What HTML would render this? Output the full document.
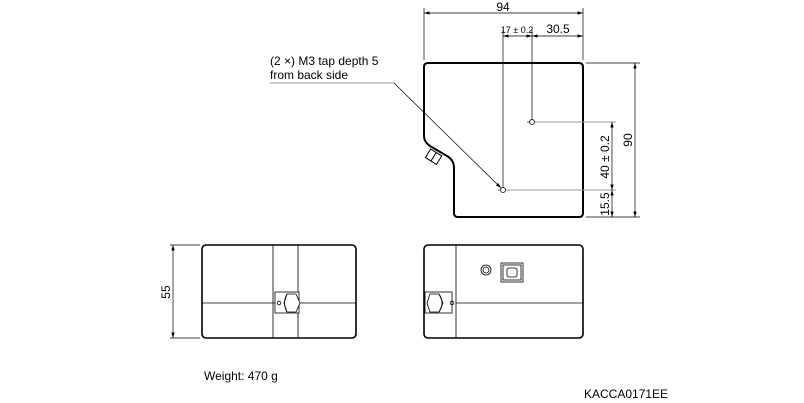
<!DOCTYPE html>
<html><head><style>
html,body{margin:0;padding:0;background:#fff;}
svg{display:block;}
text{font-family:"Liberation Sans",sans-serif;fill:#000;}
</style></head><body>
<svg width="804" height="403" viewBox="0 0 804 403" xmlns="http://www.w3.org/2000/svg">
<defs>
<marker id="a" viewBox="0 0 10 6" refX="10" refY="3" markerWidth="8" markerHeight="5" orient="auto-start-reverse"><path d="M0,0 L10,3 L0,6 z" fill="#000"/></marker>
</defs>
<!-- top view outline -->
<path d="M428,63 H579 Q583,63 583,67 V213 Q583,217 579,217 H458 Q454,217 454,213 V168 Q454,160 447,156 L430,146 Q424,142 424,136 V67 Q424,63 428,63 Z" fill="none" stroke="#000" stroke-width="2"/>
<!-- small connector on diagonal -->
<g transform="translate(434,157) rotate(32)" fill="none" stroke="#000" stroke-width="1"><rect x="-7" y="-5" width="13" height="10"/><line x1="-0.5" y1="-5" x2="-0.5" y2="5"/></g>
<!-- holes -->
<circle cx="532" cy="122" r="2.5" fill="none" stroke="#000" stroke-width="0.8"/>
<circle cx="503" cy="190" r="2.5" fill="none" stroke="#000" stroke-width="0.8"/>
<g stroke="#000" stroke-width="0.6">
<line x1="527" y1="122" x2="530" y2="122"/><line x1="498" y1="190" x2="500" y2="190"/>
</g>
<!-- gray extension lines -->
<g stroke="#999" stroke-width="1">
<line x1="535" y1="122" x2="616" y2="122"/>
<line x1="506" y1="190" x2="616" y2="190"/>
<line x1="270" y1="83" x2="394" y2="83"/>
</g>
<g stroke="#000" stroke-width="0.7" fill="none">
<!-- 94 -->
<line x1="424" y1="8" x2="424" y2="60"/><line x1="583" y1="8" x2="583" y2="60"/>
<line x1="424" y1="13" x2="583" y2="13" marker-start="url(#a)" marker-end="url(#a)"/>
<!-- 17 & 30.5 -->
<line x1="503" y1="30" x2="503" y2="188"/><line x1="532" y1="30" x2="532" y2="120"/>
<line x1="503" y1="36" x2="532" y2="36" marker-start="url(#a)" marker-end="url(#a)"/>
<line x1="532" y1="36" x2="583" y2="36" marker-start="url(#a)" marker-end="url(#a)"/>
<!-- 90 -->
<line x1="586" y1="63" x2="640" y2="63"/><line x1="586" y1="217" x2="640" y2="217"/>
<line x1="635" y1="63" x2="635" y2="217" marker-start="url(#a)" marker-end="url(#a)"/>
<!-- 40 & 15.5 -->
<line x1="612" y1="122" x2="612" y2="190" marker-start="url(#a)" marker-end="url(#a)"/>
<line x1="612" y1="190" x2="612" y2="217" marker-start="url(#a)" marker-end="url(#a)"/>
<!-- leader -->
<line x1="394" y1="83" x2="501" y2="188" marker-end="url(#a)"/>
<!-- 55 -->
<line x1="170" y1="245" x2="200" y2="245"/><line x1="170" y1="338" x2="200" y2="338"/>
<line x1="173" y1="245" x2="173" y2="338" marker-start="url(#a)" marker-end="url(#a)"/>
</g>
<text x="503" y="11" font-size="12" text-anchor="middle">94</text>
<text x="517" y="33" font-size="9" text-anchor="middle" transform="scale(1,1)">17 ± 0.2</text>
<text x="558" y="33" font-size="12" text-anchor="middle">30.5</text>
<text x="632" y="140" font-size="12" text-anchor="middle" transform="rotate(-90 632 140)">90</text>
<text x="609" y="157" font-size="12" text-anchor="middle" transform="rotate(-90 609 157)">40 ± 0.2</text>
<text x="609" y="204" font-size="12" text-anchor="middle" transform="rotate(-90 609 204)">15.5</text>
<text x="170" y="292" font-size="12" text-anchor="middle" transform="rotate(-90 170 292)">55</text>
<text x="270" y="65" font-size="12">(2 ×) M3 tap depth 5</text>
<text x="270" y="79" font-size="12">from back side</text>
<text x="204" y="380" font-size="12">Weight: 470 g</text>
<text x="584" y="398" font-size="12">KACCA0171EE</text>
<!-- bottom left view -->
<rect x="202" y="245" width="154" height="93" rx="4" fill="none" stroke="#000" stroke-width="1.6"/>
<g stroke="#000" stroke-width="0.8" fill="none">
<line x1="273" y1="245" x2="273" y2="338"/><line x1="298" y1="245" x2="298" y2="338"/>
<line x1="202" y1="303" x2="356" y2="303"/>
<rect x="275" y="292" width="24" height="21" fill="#fff"/>
<circle cx="279" cy="303" r="1.8"/>
<polygon points="287,294 296,294 300,303 296,312 287,312 284,303" fill="#fff"/>
<path d="M287,294 Q282,303 287,312"/>
</g>
<!-- bottom right view -->
<rect x="424" y="245" width="159" height="93" rx="4" fill="none" stroke="#000" stroke-width="1.6"/>
<g stroke="#000" stroke-width="0.8" fill="none">
<line x1="456" y1="245" x2="456" y2="338"/>
<line x1="456" y1="303" x2="583" y2="303"/>
<circle cx="486" cy="270" r="5"/><circle cx="486" cy="270" r="3"/>
<rect x="501" y="263" width="22" height="19"/><rect x="503" y="265" width="18" height="15"/>
<rect x="507" y="268" width="10" height="9" rx="2"/>
<rect x="425" y="292" width="27" height="21"/>
<circle cx="452" cy="303" r="1.8"/>
<polygon points="430,294 439,294 443,303 439,312 430,312 427,303"/>
<path d="M439,294 Q445,303 439,312"/>
</g>
</svg>
</body></html>
